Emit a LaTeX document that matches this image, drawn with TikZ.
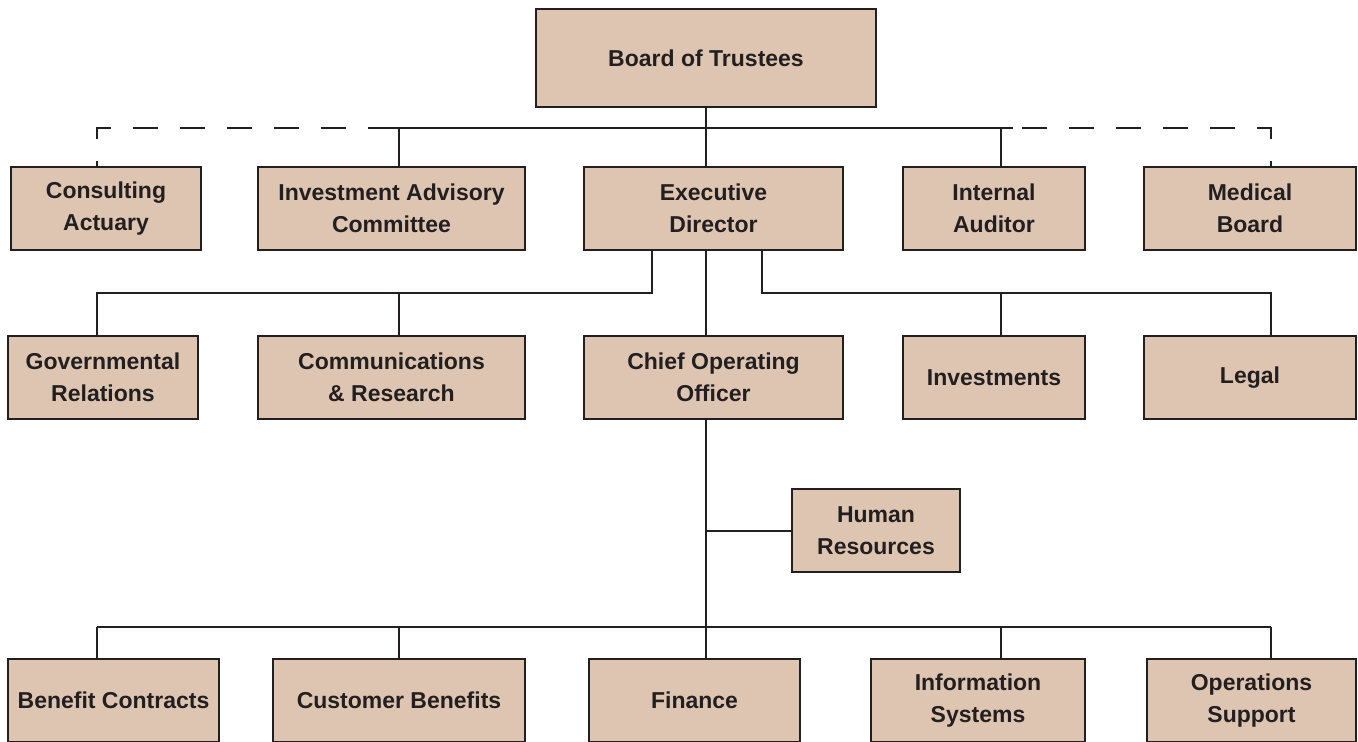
\documentclass[tikz,border=0pt]{standalone}
\usepackage{fontspec}
\setmainfont{Liberation Sans}
\definecolor{boxfill}{HTML}{DDC5B1}
\definecolor{ink}{HTML}{231F20}
\tikzset{
    unit/.style={draw=ink, fill=boxfill, line width=1.25pt, align=center,
        inner sep=0pt, minimum height=41.5pt,
        font=\fontsize{11.5}{16}\selectfont\bfseries, text=ink},
    link/.style={draw=ink, line width=1pt},
    dotlink/.style={link, dash pattern=on 12.5pt off 11pt, dash phase=10.25pt}
}
\begin{document}
\begin{tikzpicture}[x=0.5pt,y=-0.5pt]
\useasboundingbox (0,0) rectangle (1358,742);

% columns and buses
\foreach \n/\x in {a/97,b/399,c/706,d/1001,e/1271}
{
    \coordinate (col\n) at (\x,0);
}
\coordinate (edl) at (652,0);  \coordinate (edr) at (762,0);
\coordinate (topbus) at (0,128);
\coordinate (midbus) at (0,293);
\coordinate (lowbus) at (0,627);

% top
\node[unit, minimum width=170pt, minimum height=49pt] (bot) at (706,58) {Board of Trustees};

% first row
\node[unit, minimum width=95pt] (ca) at (106,208.5) {Consulting\\Actuary};
\node[unit, minimum width=133.5pt] (iac) at (391.5,208.5) {Investment Advisory\\Committee};
\node[unit, minimum width=129.5pt] (ed) at (713.5,208.5) {Executive\\Director};
\node[unit, minimum width=91pt] (ia) at (994,208.5) {Internal\\Auditor};
\node[unit, minimum width=106pt] (mb) at (1250,208.5) {Medical\\Board};

% second row
\node[unit, minimum width=95pt] (gr) at (103,377.5) {Governmental\\Relations};
\node[unit, minimum width=133.5pt] (cr) at (391.5,377.5) {Communications\\\& Research};
\node[unit, minimum width=129.5pt] (coo) at (713.5,377.5) {Chief Operating\\Officer};
\node[unit, minimum width=91pt] (inv) at (994,377.5) {Investments};
\node[unit, minimum width=106pt] (legal) at (1250,377.5) {Legal};

\node[unit, minimum width=84pt] (hr) at (876,530.5) {Human\\Resources};

% third row
\node[unit, minimum width=105.5pt] (bc) at (113.5,700.5) {Benefit Contracts};
\node[unit, minimum width=126pt] (cb) at (399,700.5) {Customer Benefits};
\node[unit, minimum width=105.5pt] (fin) at (694.5,700.5) {Finance};
\node[unit, minimum width=107pt] (is) at (978,700.5) {Information\\Systems};
\node[unit, minimum width=104.5pt] (os) at (1251.5,700.5) {Operations\\Support};

% board level
\draw[link] (bot.south) -- (ed.north -| bot.south);
\draw[link] ([xshift=-15pt]colb |- topbus) -- ([xshift=6pt]cold |- topbus);
\draw[link] (colb |- topbus) -- (iac.north -| colb);
\draw[link] (cold |- topbus) -- (ia.north -| cold);
\draw[dotlink] (ca.north -| cola) |- ([xshift=-15pt]colb |- topbus);
\draw[dotlink] (mb.north -| cole) |- ([xshift=6pt]cold |- topbus);

% executive director
\draw[link] (ed.south -| edl) -- (edl |- midbus) -- (cola |- midbus) -- (gr.north -| cola);
\draw[link] (colb |- midbus) -- (cr.north -| colb);
\draw[link] (ed.south -| colc) -- (coo.north -| colc);
\draw[link] (ed.south -| edr) -- (edr |- midbus) -- (cole |- midbus) -- (legal.north -| cole);
\draw[link] (cold |- midbus) -- (inv.north -| cold);

% chief operating officer
\draw[link] (coo.south -| colc) -- (fin.north -| colc);
\draw[link] (colc |- hr.west) -- (hr.west);
\draw[link] (cola |- lowbus) -- (cole |- lowbus);
\draw[link] (cola |- lowbus) -- (bc.north -| cola);
\draw[link] (colb |- lowbus) -- (cb.north -| colb);
\draw[link] (cold |- lowbus) -- (is.north -| cold);
\draw[link] (cole |- lowbus) -- (os.north -| cole);
\end{tikzpicture}
\end{document}
